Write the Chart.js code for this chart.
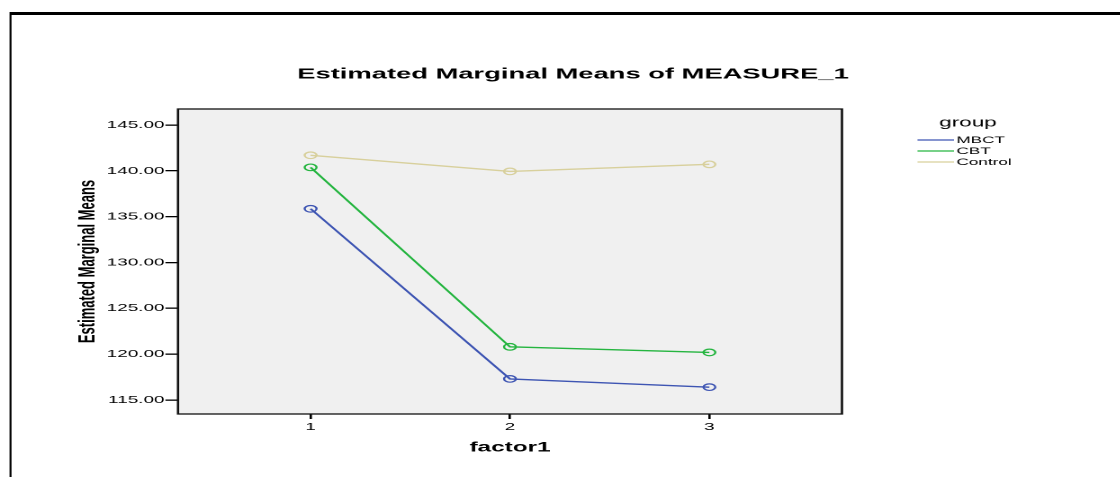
<!DOCTYPE html>
<html>
<head>
<meta charset="utf-8">
<script src="https://cdn.jsdelivr.net/npm/chart.js@4.4.1/dist/chart.umd.min.js"></script>
<style>
  html, body { margin: 0; padding: 0; background: #fff; overflow: hidden; }
  /* SPSS export is stretched sideways, so draw narrow and stretch the whole thing */
  #wrap { position: absolute; left: 0; top: 0; width: 622.22px; height: 477px; transform: scaleX(1.8); transform-origin: 0 0; }
</style>
</head>
<body>
<div id="wrap"><canvas id="chart"></canvas></div>
<script>
const factorLevels = [1, 2, 3];
const groupNames = ['MBCT', 'CBT', 'Control'];
const mbctMeans = [135.86, 117.30, 116.40];
const cbtMeans = [140.38, 120.80, 120.19];
const controlMeans = [141.70, 139.94, 140.71];
const yTicks = [115, 120, 125, 130, 135, 140, 145];

const SX = 1.8;
const FONT = "'Liberation Sans', Arial, sans-serif";
const COLORS = { MBCT: '#3e55b3', CBT: '#25b540', Control: '#d8d09c' };

function groupDataset(label, values) {
  return {
    label,
    data: factorLevels.map((f, i) => ({ x: f, y: values[i] })),
    borderColor: COLORS[label],
    borderWidth: 1.4,
    pointRadius: 3.3,
    pointBorderWidth: 1.2,
    pointBorderColor: COLORS[label],
    pointBackgroundColor: 'rgba(0,0,0,0)',
    tension: 0,
    fill: false,
  };
}

const spssFrame = {
  id: 'spssFrame',
  beforeDraw(chart) {
    const { ctx, chartArea: a, width, height } = chart;
    ctx.save();
    ctx.fillStyle = '#000';
    ctx.fillRect(10 / SX, 12, width, 3);
    ctx.fillRect(9.5 / SX, 12, 2 / SX, height);
    ctx.fillStyle = '#f0f0f0';
    ctx.fillRect(a.left, a.top, a.right - a.left, a.bottom - a.top);
    ctx.restore();
  },
  afterDraw(chart) {
    const { ctx, chartArea: a } = chart;
    ctx.save();
    ctx.strokeStyle = '#111';
    ctx.lineWidth = 1.3;
    ctx.strokeRect(a.left, a.top, a.right - a.left, a.bottom - a.top);

    // title
    ctx.fillStyle = '#000';
    ctx.font = `bold 15.2px ${FONT}`;
    ctx.textAlign = 'center';
    ctx.textBaseline = 'middle';
    ctx.fillText('Estimated Marginal Means of MEASURE_1', 573 / SX, 74.5);

    // legend
    ctx.font = `12.5px ${FONT}`;
    ctx.fillText('group', 968 / SX, 123);
    const rows = [140, 151, 162];
    ctx.font = `9.5px ${FONT}`;
    ctx.textAlign = 'left';
    chart.data.datasets.forEach((ds, i) => {
      ctx.strokeStyle = ds.borderColor;
      ctx.lineWidth = 1.3;
      ctx.beginPath();
      ctx.moveTo(917.5 / SX, rows[i]);
      ctx.lineTo(954 / SX, rows[i]);
      ctx.stroke();
      ctx.fillStyle = '#000';
      ctx.fillText(ds.label, 956.5 / SX, rows[i] + 0.5);
    });
    ctx.restore();
  },
};

new Chart(document.getElementById('chart'), {
  type: 'line',
  data: {
    datasets: [
      groupDataset(groupNames[0], mbctMeans),
      groupDataset(groupNames[1], cbtMeans),
      groupDataset(groupNames[2], controlMeans),
    ],
  },
  options: {
    responsive: true,
    maintainAspectRatio: false,
    devicePixelRatio: 2,
    animation: false,
    layout: { padding: { top: 109, right: 1120 / SX - 842 / SX, bottom: 0, left: 0 } },
    plugins: {
      legend: { display: false },
      title: { display: false },
      tooltip: { enabled: false },
    },
    scales: {
      x: {
        type: 'linear',
        min: 0.335,
        max: 3.665,
        afterBuildTicks: (s) => { s.ticks = factorLevels.map((v) => ({ value: v })); },
        afterFit: (s) => { s.height = 63; },
        border: { display: false },
        grid: { drawOnChartArea: false, drawTicks: true, tickLength: 5, color: '#000', lineWidth: 1.3 },
        ticks: {
          color: '#000',
          font: { family: FONT, size: 10.5 },
          padding: 2,
          maxRotation: 0,
          autoSkip: false,
          callback: (v) => String(v),
        },
        title: {
          display: true,
          text: 'factor1',
          color: '#000',
          font: { family: FONT, size: 13.5, weight: 'bold' },
          padding: { top: 0, bottom: 21 },
        },
      },
      y: {
        min: 113.47,
        max: 146.75,
        afterBuildTicks: (s) => { s.ticks = yTicks.map((v) => ({ value: v })); },
        afterFit: (s) => { s.width = 178 / SX; },
        border: { display: false },
        grid: { drawOnChartArea: false, drawTicks: true, tickLength: 7, color: '#000', lineWidth: 1.3 },
        ticks: {
          color: '#000',
          font: { family: FONT, size: 10.5 },
          padding: 0.5,
          autoSkip: false,
          callback: (v) => v.toFixed(2),
        },
        title: {
          display: true,
          text: 'Estimated Marginal Means',
          color: '#000',
          font: { family: FONT, size: 13, weight: 'bold' },
          padding: { top: 41, bottom: 0 },
        },
      },
    },
  },
  plugins: [spssFrame],
});
</script>
</body>
</html>
